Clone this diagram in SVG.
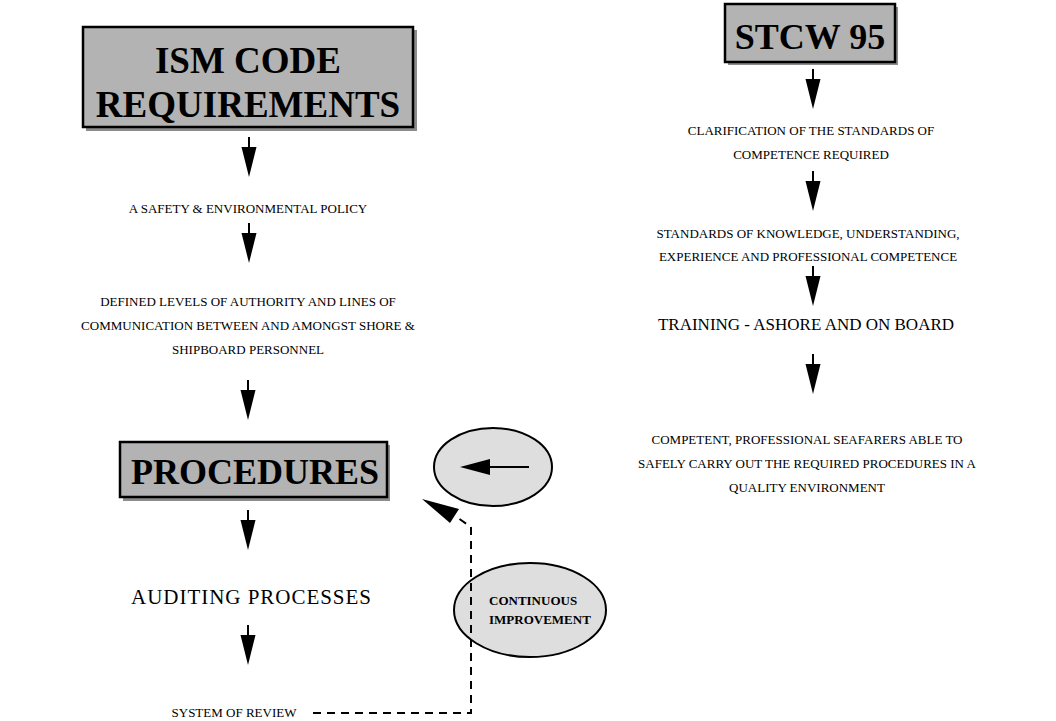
<svg xmlns="http://www.w3.org/2000/svg" width="1056" height="721" viewBox="0 0 1056 721">
  <style>
    .bg { fill: #ffffff; }
    .box { fill: #b3b3b3; stroke: #000000; stroke-width: 2.5; }
    .shadow { fill: #8c8c8c; }
    .oval { fill: #dedede; stroke: #000000; stroke-width: 2; }
    .title { font-family: "Liberation Serif", "Times New Roman", serif; font-weight: bold; fill: #000; text-anchor: middle; }
    .small { font-family: "Liberation Serif", "Times New Roman", serif; font-size: 13px; fill: #000; text-anchor: middle; }
    .large { font-family: "Liberation Serif", "Times New Roman", serif; font-size: 17px; fill: #000; text-anchor: middle; }
    .bold { font-family: "Liberation Serif", "Times New Roman", serif; font-size: 13px; font-weight: bold; fill: #000; }
    .flow { stroke: #000; stroke-width: 2; fill: none; }
    .dash { stroke: #000; stroke-width: 2; fill: none; stroke-dasharray: 8 6; }
    .head { fill: #000; }
  </style>
  <defs>
    <!-- down-pointing flow arrow, origin at the top of its shaft -->
    <g id="down">
      <line class="flow" x1="0" y1="0" x2="0" y2="12"/>
      <polygon class="head" points="-7.5,10 7.5,10 0,40"/>
    </g>
  </defs>

  <rect class="bg" x="0" y="0" width="1056" height="721"/>

  <!-- left column: ISM Code -->
  <g id="ism-code">
    <rect class="shadow" x="86" y="30" width="331" height="101"/>
    <rect class="box" x="83" y="27" width="330" height="100"/>
    <text class="title" x="248" y="73" font-size="37">ISM CODE</text>
    <text class="title" x="248" y="117" font-size="37">REQUIREMENTS</text>
  </g>
  <g id="safety-policy">
    <text class="small" x="248" y="213">A SAFETY &amp; ENVIRONMENTAL POLICY</text>
  </g>
  <g id="authority-levels">
    <text class="small" x="248" y="306">DEFINED LEVELS OF AUTHORITY AND LINES OF</text>
    <text class="small" x="248" y="330">COMMUNICATION BETWEEN AND AMONGST SHORE &amp;</text>
    <text class="small" x="248" y="354">SHIPBOARD PERSONNEL</text>
  </g>
  <g id="procedures">
    <rect class="shadow" x="123" y="445" width="267" height="56"/>
    <rect class="box" x="120" y="442" width="267" height="55"/>
    <text class="title" x="255" y="484" font-size="36">PROCEDURES</text>
  </g>
  <g id="auditing">
    <text class="large" x="251" y="604" style="font-size:21px" textLength="240" lengthAdjust="spacing">AUDITING PROCESSES</text>
  </g>
  <g id="review">
    <text class="small" x="234" y="717">SYSTEM OF REVIEW</text>
  </g>

  <!-- right column: STCW 95 -->
  <g id="stcw">
    <rect class="shadow" x="728" y="7" width="170" height="58"/>
    <rect class="box" x="725" y="4" width="170" height="58"/>
    <text class="title" x="810" y="49" font-size="36">STCW 95</text>
  </g>
  <g id="clarification">
    <text class="small" x="811" y="135">CLARIFICATION OF THE STANDARDS OF</text>
    <text class="small" x="811" y="159">COMPETENCE REQUIRED</text>
  </g>
  <g id="standards">
    <text class="small" x="808" y="238">STANDARDS OF KNOWLEDGE, UNDERSTANDING,</text>
    <text class="small" x="808" y="261">EXPERIENCE AND PROFESSIONAL COMPETENCE</text>
  </g>
  <g id="training">
    <text class="large" x="806" y="330">TRAINING - ASHORE AND ON BOARD</text>
  </g>
  <g id="competent">
    <text class="small" x="807" y="444">COMPETENT, PROFESSIONAL SEAFARERS ABLE TO</text>
    <text class="small" x="807" y="468">SAFELY CARRY OUT THE REQUIRED PROCEDURES IN A</text>
    <text class="small" x="807" y="492">QUALITY ENVIRONMENT</text>
  </g>

  <!-- feed-in ellipse and continuous improvement ellipse -->
  <g id="feed-in">
    <ellipse class="oval" cx="493" cy="467" rx="59" ry="39"/>
    <line class="flow" x1="529" y1="467" x2="485" y2="467"/>
    <polygon class="head" points="460,467 490,459 490,475"/>
  </g>
  <g id="continuous-improvement">
    <ellipse class="oval" cx="530" cy="610" rx="76" ry="47"/>
    <text class="bold" x="489" y="605">CONTINUOUS</text>
    <text class="bold" x="489" y="624">IMPROVEMENT</text>
  </g>

  <!-- connectors -->
  <g id="connectors">
    <use href="#down" x="249" y="137"/>
    <use href="#down" x="249" y="223"/>
    <use href="#down" x="248" y="380"/>
    <use href="#down" x="248" y="510"/>
    <use href="#down" x="248" y="625"/>

    <use href="#down" x="813" y="69"/>
    <use href="#down" x="813" y="171"/>
    <use href="#down" x="813" y="266"/>
    <use href="#down" x="813" y="354"/>

    <!-- review feedback loop back to procedures -->
    <path class="dash" d="M313,713 H471 V527 L458,518"/>
    <polygon class="head" points="422,499 459,509 450,523"/>
  </g>
</svg>
